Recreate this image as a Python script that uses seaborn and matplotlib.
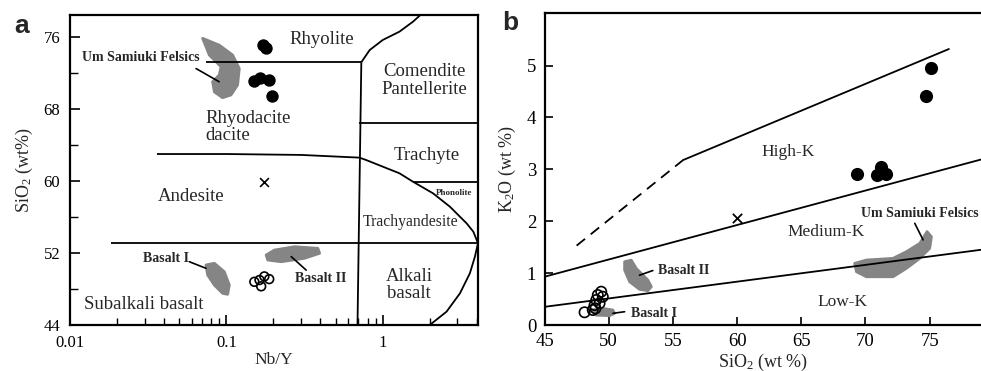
import numpy as np
import pandas as pd
import matplotlib
matplotlib.use("Agg")
import matplotlib.pyplot as plt
import matplotlib.ticker as mticker
import seaborn as sns

# ---------------- data: panel a (Nb/Y vs SiO2) ----------------
a_filled_x = [0.171, 0.180, 0.151, 0.163, 0.188, 0.196]
a_filled_y = [75.1, 74.8, 71.1, 71.4, 71.2, 69.4]
a_open_x = [0.151, 0.163, 0.175, 0.188, 0.167]
a_open_y = [48.8, 49.0, 49.4, 49.1, 48.3]
a_cross_x = [0.175]
a_cross_y = [59.9]

a_felsic_x = [0.0705, 0.0901, 0.1097, 0.121, 0.118, 0.107, 0.0946, 0.0838, 0.0817, 0.0901, 0.0925, 0.0778]
a_felsic_y = [75.86, 75.1, 74.0, 72.5, 70.67, 69.56, 69.26, 69.9, 71.03, 71.78, 72.7, 74.0]
a_basI_x = [0.0741, 0.0838, 0.0970, 0.1045, 0.1019, 0.0946, 0.0838, 0.0759]
a_basI_y = [50.67, 50.86, 49.92, 48.44, 47.41, 47.52, 48.44, 49.56]
a_basII_x = [0.1797, 0.2032, 0.273, 0.385, 0.395, 0.316, 0.224, 0.184]
a_basII_y = [51.78, 52.33, 52.7, 52.52, 51.97, 51.41, 51.03, 51.22]

# field boundaries (Winchester & Floyd)
bd_rhy_x = [0.074, 0.73]
bd_rhy_y = [73.2, 73.2]
bd_vert_x = [0.73, 0.69]
bd_vert_y = [73.2, 44.0]
bd_top_x = [0.73, 0.826, 1.0, 1.28, 1.56, 1.74]
bd_top_y = [73.2, 74.56, 75.67, 76.6, 77.7, 78.44]
bd_com_x = [0.71, 4.07]
bd_com_y = [66.5, 66.5]
bd_and_x = [0.036, 0.1, 0.3, 0.71, 0.785, 1.0, 1.28, 1.56, 2.10, 2.69, 3.44, 3.80, 4.07]
bd_and_y = [63.0, 63.0, 62.9, 62.6, 62.33, 61.6, 60.86, 59.93, 58.63, 57.15, 55.3, 54.37, 53.08]
bd_pho_x = [1.56, 4.07]
bd_pho_y = [59.93, 59.93]
bd_bas_x = [0.0182, 4.07]
bd_bas_y = [53.1, 53.1]
bd_alk_x = [4.07, 3.89, 3.61, 3.12, 2.56, 2.0]
bd_alk_y = [53.1, 51.6, 49.74, 47.52, 45.48, 44.0]

a_yticks = [44, 52, 60, 68, 76]
a_yminor = [48, 56, 64, 72]
a_xticks = [0.01, 0.1, 1]
a_xticklabels = ["0.01", "0.1", "1"]

# ---------------- data: panel b (SiO2 vs K2O) ----------------
b_filled_x = [75.1, 74.75, 69.35, 70.93, 71.24, 71.63]
b_filled_y = [4.96, 4.41, 2.92, 2.89, 3.05, 2.92]
b_open_x = [48.12, 48.76, 48.9, 49.03, 49.15, 49.42, 49.54, 49.29, 48.97]
b_open_y = [0.245, 0.289, 0.385, 0.482, 0.578, 0.642, 0.545, 0.418, 0.32]
b_cross_x = [60.0]
b_cross_y = [2.06]

b_felsic_x = [69.16, 70.07, 72.15, 73.19, 74.23, 74.8, 75.14, 75.0, 74.23, 73.19, 72.15, 70.07, 69.3]
b_felsic_y = [1.189, 1.252, 1.285, 1.413, 1.574, 1.80, 1.70, 1.477, 1.285, 1.092, 0.93, 0.93, 1.027]
b_basI_x = [48.64, 49.54, 50.32, 50.46, 50.07, 49.03]
b_basI_y = [0.289, 0.32, 0.289, 0.225, 0.18, 0.19]
b_basII_x = [51.24, 51.76, 52.15, 53.05, 53.32, 53.05, 52.4, 51.63, 51.24]
b_basII_y = [1.22, 1.25, 1.09, 0.867, 0.738, 0.661, 0.688, 0.834, 1.06]

bk_dash_x = [47.5, 55.8]
bk_dash_y = [1.53, 3.18]
bk_high_x = [55.8, 76.5]
bk_high_y = [3.18, 5.32]
bk_med_x = [45, 79]
bk_med_y = [0.93, 3.19]
bk_low_x = [45, 79]
bk_low_y = [0.35, 1.45]

b_xticks = [45, 50, 55, 60, 65, 70, 75]
b_yticks = [0, 1, 2, 3, 4, 5]

# ---------------- style ----------------
sns.set_theme(style="ticks")
plt.rcParams['font.family'] = ['Liberation Serif', 'DejaVu Serif']
plt.rcParams['mathtext.default'] = 'regular'

GRAY = '#858585'
LW = 1.3

fig = plt.figure(figsize=(9.81, 3.71), dpi=100)
W, H = 981.0, 371.0
ax1 = fig.add_axes([70 / W, 46 / H, 408 / W, 310 / H])
ax2 = fig.add_axes([544.5 / W, 46 / H, 436.5 / W, 312.3 / H])

# ---------------- panel a ----------------
ax = ax1
ax.set_xscale('log')
for xs, ys in [(a_felsic_x, a_felsic_y), (a_basI_x, a_basI_y), (a_basII_x, a_basII_y)]:
    ax.fill(xs, ys, color=GRAY, ec=GRAY, lw=2, joinstyle='round', zorder=2)
for xs, ys in [(bd_rhy_x, bd_rhy_y), (bd_vert_x, bd_vert_y), (bd_top_x, bd_top_y),
               (bd_com_x, bd_com_y), (bd_and_x, bd_and_y), (bd_pho_x, bd_pho_y),
               (bd_bas_x, bd_bas_y), (bd_alk_x, bd_alk_y)]:
    ax.plot(xs, ys, color='black', lw=LW, zorder=3, solid_capstyle='butt')

sns.scatterplot(x=a_filled_x, y=a_filled_y, ax=ax, color='black', s=80,
                edgecolor='black', linewidth=0, zorder=4)
sns.scatterplot(x=a_open_x, y=a_open_y, ax=ax, facecolors='none', edgecolor='black',
                s=40, linewidth=1.2, zorder=4)
sns.scatterplot(x=a_cross_x, y=a_cross_y, ax=ax, marker='x', color='black', s=40,
                linewidth=1.2, zorder=4)

ax.set_xlim(0.01, 4.07)
ax.set_ylim(44, 78.45)
ax.set_xticks(a_xticks)
ax.set_xticklabels(a_xticklabels)
ax.xaxis.set_minor_locator(mticker.LogLocator(base=10, subs=np.arange(2, 10)))
ax.xaxis.set_minor_formatter(mticker.NullFormatter())
ax.set_yticks(a_yticks)
ax.set_yticks(a_yminor, minor=True)
ax.tick_params(axis='both', which='major', direction='in', length=7, width=1.2,
               labelsize=12, pad=7, color='black', labelcolor='black')
ax.tick_params(axis='both', which='minor', direction='in', length=5, width=1.0, color='black')
ax.tick_params(axis='y', which='minor', length=6)
for s in ax.spines.values():
    s.set_linewidth(1.6)
    s.set_color('black')
ax.set_xlabel('Nb/Y', fontsize=12.5, labelpad=1)
ax.set_ylabel('SiO$_2$ (wt%)', fontsize=13, labelpad=6)

fs = 13.5
ax.text(0.405, 75.7, 'Rhyolite', fontsize=fs, ha='center', va='center')
ax.text(1.85, 71.2, 'Comendite\nPantellerite', fontsize=fs, ha='center', va='center', linespacing=1.05)
ax.text(0.073, 66.0, 'Rhyodacite\ndacite', fontsize=fs, ha='left', va='center', linespacing=1.05)
ax.text(1.92, 62.8, 'Trachyte', fontsize=fs, ha='center', va='center')
ax.text(2.88, 58.7, 'Phonolite', fontsize=6.5, fontweight='bold', ha='center', va='center')
ax.text(0.0594, 58.26, 'Andesite', fontsize=fs, ha='center', va='center')
ax.text(1.50, 55.5, 'Trachyandesite', fontsize=11.3, ha='center', va='center')
ax.text(1.47, 48.44, 'Alkali\nbasalt', fontsize=fs, ha='center', va='center', linespacing=1.05)
ax.text(0.0298, 46.3, 'Subalkali basalt', fontsize=fs, ha='center', va='center')

ax.text(0.067, 73.75, 'Um Samiuki Felsics', fontsize=10, fontweight='bold', ha='right', va='center')
ax.plot([0.064, 0.090], [72.5, 71.03], color='black', lw=1.2, zorder=5)
ax.text(0.0575, 51.35, 'Basalt I', fontsize=10, fontweight='bold', ha='right', va='center')
ax.plot([0.058, 0.0741], [51.03, 50.3], color='black', lw=1.2, zorder=5)
ax.text(0.273, 49.2, 'Basalt II', fontsize=10, fontweight='bold', ha='left', va='center')
ax.plot([0.26, 0.324], [51.6, 50.1], color='black', lw=1.2, zorder=5)

fig.text(22 / W, 1 - 26 / H, 'a', fontsize=19, fontweight='bold', family='Liberation Sans',
         ha='center', va='center')

# ---------------- panel b ----------------
ax = ax2
for xs, ys in [(b_felsic_x, b_felsic_y), (b_basI_x, b_basI_y), (b_basII_x, b_basII_y)]:
    ax.fill(xs, ys, color=GRAY, ec=GRAY, lw=2, joinstyle='round', zorder=2)
ax.plot(bk_dash_x, bk_dash_y, color='black', lw=LW, dashes=(6, 4), zorder=3)
for xs, ys in [(bk_high_x, bk_high_y), (bk_med_x, bk_med_y), (bk_low_x, bk_low_y)]:
    ax.plot(xs, ys, color='black', lw=LW, zorder=3)

sns.scatterplot(x=b_filled_x, y=b_filled_y, ax=ax, color='black', s=90,
                edgecolor='black', linewidth=0, zorder=4)
sns.scatterplot(x=b_open_x, y=b_open_y, ax=ax, facecolors='none', edgecolor='black',
                s=55, linewidth=1.2, zorder=4)
sns.scatterplot(x=b_cross_x, y=b_cross_y, ax=ax, marker='x', color='black', s=45,
                linewidth=1.3, zorder=4)

ax.set_xlim(45, 79)
ax.set_ylim(0, 6.02)
ax.set_xticks(b_xticks)
ax.set_yticks(b_yticks)
ax.tick_params(axis='both', which='major', direction='in', length=6, width=1.2,
               labelsize=13.5, pad=6, color='black', labelcolor='black')
for s in ax.spines.values():
    s.set_linewidth(1.6)
    s.set_color('black')
ax.spines['right'].set_visible(False)
ax.set_xlabel('SiO$_2$ (wt %)', fontsize=13, labelpad=1)
ax.set_ylabel('K$_2$O (wt %)', fontsize=13, labelpad=6)

ax.text(63.96, 3.33, 'High-K', fontsize=12.5, ha='center', va='center')
ax.text(66.9, 1.79, 'Medium-K', fontsize=12.5, ha='center', va='center')
ax.text(68.25, 0.45, 'Low-K', fontsize=12.5, ha='center', va='center')
ax.text(69.68, 2.15, 'Um Samiuki Felsics', fontsize=10, fontweight='bold', ha='left', va='center',
        clip_on=False)
ax.plot([73.84, 74.49], [1.96, 1.64], color='black', lw=1.2, zorder=5)
ax.text(53.83, 1.05, 'Basalt II', fontsize=10, fontweight='bold', ha='left', va='center')
ax.plot([52.4, 53.44], [0.96, 1.05], color='black', lw=1.2, zorder=5)
ax.text(51.76, 0.225, 'Basalt I', fontsize=10, fontweight='bold', ha='left', va='center')
ax.plot([50.33, 51.24], [0.225, 0.256], color='black', lw=1.2, zorder=5)

fig.text(510 / W, 1 - 23 / H, 'b', fontsize=19, fontweight='bold', family='Liberation Sans',
         ha='center', va='center')

fig.savefig('out.png', dpi=100)
